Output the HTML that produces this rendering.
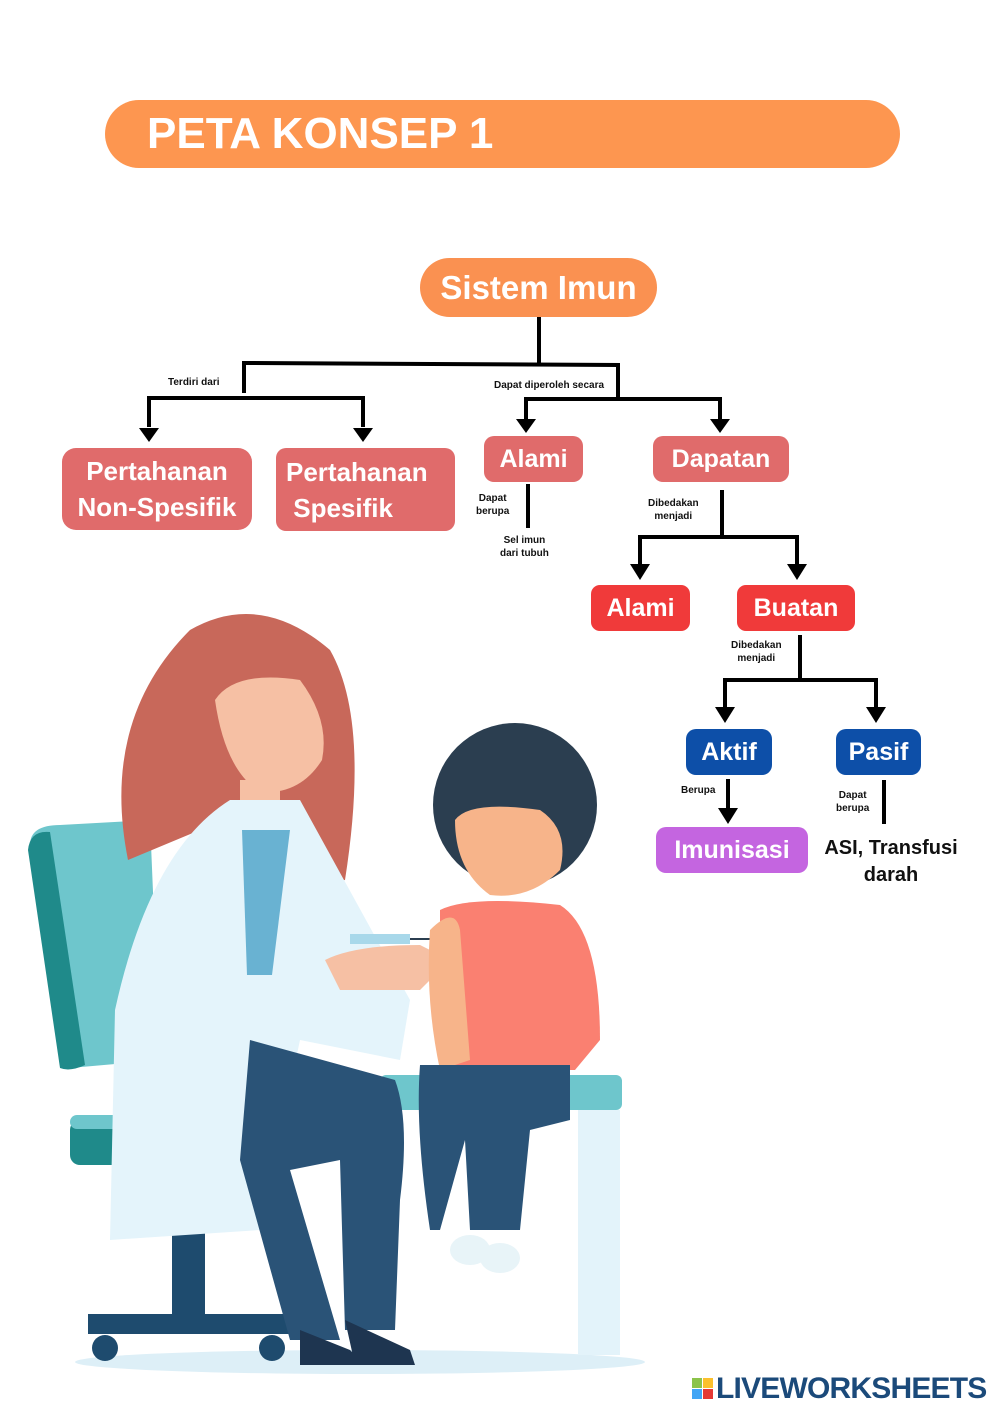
<!DOCTYPE html>
<html><head><meta charset="utf-8"><style>
body{margin:0;background:#fff;}
.pg{position:relative;width:1000px;height:1414px;overflow:hidden;background:#fff;font-family:"Liberation Sans","DejaVu Sans",sans-serif;}
.b{position:absolute;color:#fff;font-weight:bold;display:flex;align-items:center;justify-content:center;text-align:center;box-sizing:border-box;}
.s{position:absolute;font-size:10px;font-weight:bold;color:#111;text-align:center;line-height:13px;}
</style></head><body><div class="pg">
<div class="b" style="left:105px;top:100px;width:795px;height:68px;background:#FD9650;border-radius:34px;justify-content:flex-start;padding-left:42px;font-size:44px;">PETA KONSEP 1</div>

<svg width="1000" height="1414" style="position:absolute;left:0;top:0">
<ellipse cx="360" cy="1362" rx="285" ry="12" fill="#DDEFF7"/>
<path d="M30 845 Q30 825 60 825 L150 820 L160 1060 L70 1068 Z" fill="#6EC6CC"/>
<path d="M28 850 Q30 830 50 832 L85 1065 Q70 1072 60 1068 Z" fill="#1F8A8A"/>
<rect x="70" y="1120" width="225" height="45" rx="10" fill="#1F8A8A"/>
<rect x="70" y="1115" width="225" height="14" rx="7" fill="#6EC6CC"/>
<rect x="172" y="1165" width="33" height="155" fill="#1E4B6E"/>
<rect x="88" y="1314" width="205" height="20" fill="#1E4B6E"/>
<circle cx="105" cy="1348" r="13" fill="#1E4B6E"/><circle cx="272" cy="1348" r="13" fill="#1E4B6E"/>
<rect x="380" y="1075" width="242" height="35" rx="6" fill="#6EC6CC"/>
<rect x="578" y="1110" width="42" height="245" fill="#E3F3FA"/>
<path d="M128 860 Q100 720 190 630 Q260 590 330 650 Q370 720 345 880 L280 890 L200 830 Z" fill="#C8685A"/>
<path d="M215 700 Q235 670 300 680 Q330 720 322 760 Q300 795 260 792 Q225 770 215 700Z" fill="#F6C0A4"/>
<rect x="240" y="780" width="40" height="30" fill="#F6C0A4"/>
<path d="M230 800 L300 800 L410 1000 L400 1060 L300 1040 L260 1230 L110 1240 L115 1010 Q150 850 230 800Z" fill="#E4F4FB"/>
<path d="M242 830 L290 830 L272 975 L247 975 Z" fill="#69B2D2"/>
<path d="M250 1040 L395 1080 Q410 1120 400 1200 L395 1330 L345 1330 L340 1160 L290 1170 L340 1340 L290 1340 L240 1160 Z" fill="#2A5377"/>
<path d="M300 1330 L350 1350 L365 1365 L300 1365 Z M345 1320 L410 1350 L415 1365 L355 1365 Z" fill="#1E3550"/>
<path d="M325 960 Q355 945 420 945 L450 960 L420 990 L340 990 Z" fill="#F6C0A4"/>
<rect x="350" y="934" width="60" height="10" fill="#A8D8EA"/><line x1="410" y1="939" x2="455" y2="939" stroke="#2B3E50" stroke-width="2"/>
<circle cx="515" cy="805" r="82" fill="#2B3E50"/>
<path d="M455 820 Q470 800 540 810 Q570 830 560 870 Q530 900 490 895 Q455 870 455 820Z" fill="#F7B48A"/>
<path d="M440 910 Q470 895 560 905 Q600 930 600 1040 L575 1070 L440 1070 Z" fill="#FA8071"/>
<path d="M430 930 Q455 905 460 930 L470 1060 L440 1070 Q425 1000 430 930Z" fill="#F7B48A"/>
<path d="M420 1065 L570 1065 L570 1120 L530 1130 L520 1230 L470 1230 L465 1140 L440 1230 L430 1230 Q415 1130 420 1065Z" fill="#2A5377"/>
<ellipse cx="470" cy="1250" rx="20" ry="15" fill="#E8F4F8"/><ellipse cx="500" cy="1258" rx="20" ry="15" fill="#E8F4F8"/>

<g stroke="#000" stroke-width="4" fill="none">
<line x1="539" y1="317" x2="539" y2="365"/>
<polyline points="244,393 244,363 618,365 618,400"/>
<polyline points="149,427 149,398 363,398 363,427"/>
<polyline points="526,420 526,399 720,399 720,420"/>
<line x1="528" y1="484" x2="528" y2="528"/>
<line x1="722" y1="490" x2="722" y2="537"/>
<polyline points="640,565 640,537 797,537 797,565"/>
<line x1="800" y1="635" x2="800" y2="680"/>
<polyline points="725,708 725,680 876,680 876,708"/>
<line x1="728" y1="779" x2="728" y2="810"/>
<line x1="884" y1="780" x2="884" y2="824"/>
</g>
<g fill="#000">
<path d="M139 428 L159 428 L149 442Z"/><path d="M353 428 L373 428 L363 442Z"/>
<path d="M516 419 L536 419 L526 433Z"/><path d="M710 419 L730 419 L720 433Z"/>
<path d="M630 564 L650 564 L640 580Z"/><path d="M787 564 L807 564 L797 580Z"/>
<path d="M715 707 L735 707 L725 723Z"/><path d="M866 707 L886 707 L876 723Z"/>
<path d="M718 808 L738 808 L728 824Z"/>
</g>
</svg>

<div class="b" style="left:420px;top:258px;width:237px;height:59px;background:#FA9151;border-radius:30px;font-size:33px;">Sistem Imun</div>
<div class="s" style="left:168px;top:376px;">Terdiri dari</div>
<div class="s" style="left:494px;top:379px;">Dapat diperoleh secara</div>
<div class="b" style="left:62px;top:448px;width:190px;height:82px;background:#E06B6B;border-radius:14px;font-size:26px;line-height:36px;">Pertahanan<br>Non-Spesifik</div>
<div class="b" style="left:276px;top:448px;width:179px;height:83px;background:#E06B6B;border-radius:10px;font-size:26px;line-height:36px;justify-content:flex-start;padding-left:10px;text-align:left;">Pertahanan<br>&nbsp;Spesifik</div>
<div class="b" style="left:484px;top:436px;width:99px;height:46px;background:#E06B6B;border-radius:10px;font-size:25px;">Alami</div>
<div class="b" style="left:653px;top:436px;width:136px;height:46px;background:#E06B6B;border-radius:10px;font-size:25px;">Dapatan</div>
<div class="s" style="left:476px;top:492px;">Dapat<br>berupa</div>
<div class="s" style="left:500px;top:534px;">Sel imun<br>dari tubuh</div>
<div class="s" style="left:648px;top:497px;">Dibedakan<br>menjadi</div>
<div class="b" style="left:591px;top:585px;width:99px;height:46px;background:#F03A3A;border-radius:9px;font-size:25px;">Alami</div>
<div class="b" style="left:737px;top:585px;width:118px;height:46px;background:#F03A3A;border-radius:9px;font-size:25px;">Buatan</div>
<div class="s" style="left:731px;top:639px;">Dibedakan<br>menjadi</div>
<div class="b" style="left:686px;top:729px;width:86px;height:46px;background:#0D4FA8;border-radius:10px;font-size:25px;">Aktif</div>
<div class="b" style="left:836px;top:729px;width:85px;height:46px;background:#0D4FA8;border-radius:10px;font-size:25px;">Pasif</div>
<div class="s" style="left:681px;top:784px;">Berupa</div>
<div class="s" style="left:836px;top:789px;">Dapat<br>berupa</div>
<div class="b" style="left:656px;top:827px;width:152px;height:46px;background:#C465E0;border-radius:10px;font-size:25px;">Imunisasi</div>
<div style="position:absolute;left:815px;top:835px;width:152px;text-align:center;font-size:20px;font-weight:bold;line-height:27px;color:#111;">ASI, Transfusi<br>darah</div>

<div style="position:absolute;left:692px;top:1378px;width:22px;height:22px;">
<div style="position:absolute;left:0;top:0;width:10px;height:10px;background:#8BC34A;"></div>
<div style="position:absolute;left:11px;top:0;width:10px;height:10px;background:#FBC02D;"></div>
<div style="position:absolute;left:0;top:11px;width:10px;height:10px;background:#42A5F5;"></div>
<div style="position:absolute;left:11px;top:11px;width:10px;height:10px;background:#E53935;"></div>
</div>
<div style="position:absolute;left:716px;top:1372px;font-size:30px;font-weight:bold;color:#1B4A7A;letter-spacing:-0.8px;">LIVEWORKSHEETS</div>
</div></body></html>
